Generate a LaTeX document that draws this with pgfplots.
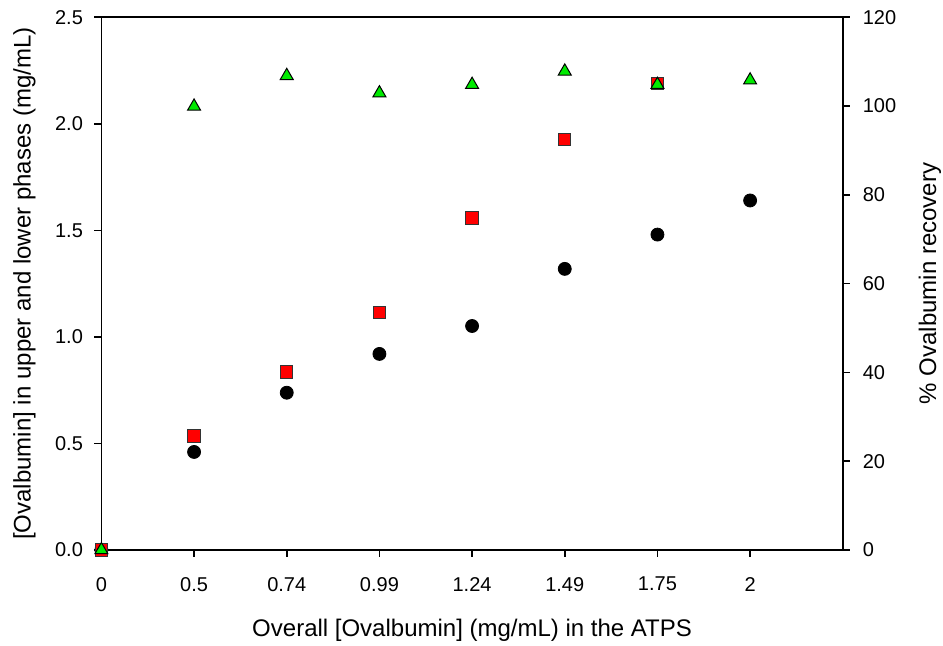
\documentclass[border=0pt]{standalone}
\usepackage{fontspec}
\setmainfont{Liberation Sans}
\usepackage{pgfplots}
\pgfplotsset{compat=1.18}

\definecolor{markred}{RGB}{255,0,0}
\definecolor{markgreen}{RGB}{0,235,0}

\pgfplotsset{
  every axis/.append style={
    scale only axis,
    width=370.7pt, height=266.4pt,
    xmin=0, xmax=8,
    tick align=outside,
    major tick length=3.5pt,
    axis line style={line width=0.8pt, black},
    tick style={line width=0.8pt, black},
    tick label style={font=\fontsize{10}{12}\selectfont},
    label style={font=\fontsize{12}{14.4}\selectfont},
    /pgf/number format/assume math mode=true,
    clip=false,
  }
}

\begin{document}
\begin{tikzpicture}
\useasboundingbox (-50.7pt,-48pt) rectangle (420.8pt,275.0pt);

% left axis: concentrations in the two phases
\begin{axis}[
  ymin=0, ymax=2.5,
  xtick={0,1,2,3,4,5,6,7},
  xticklabels={0,0.5,0.74,0.99,1.24,1.49,1.75,2},
  ytick={0,0.5,1,1.5,2,2.5},
  xtick pos=bottom, ytick pos=left,
  xticklabel style={yshift=-6.5pt},
  yticklabel style={xshift=-2.2pt, /pgf/number format/.cd, fixed, fixed zerofill, precision=1},
  xlabel={Overall [Ovalbumin] (mg/mL) in the ATPS},
  ylabel={[Ovalbumin] in upper and lower phases (mg/mL)},
  xlabel style={at={(axis description cs:0.5,0)}, anchor=base, yshift=-43.5pt, inner sep=0pt},
  ylabel style={at={(axis description cs:-0.0956,0.5)}, anchor=base, inner sep=0pt},
]
\addplot[only marks, mark=*, mark size=3.25pt,
  mark options={fill=black, draw=black}]
  coordinates {(0,0) (1,0.46) (2,0.738) (3,0.92) (4,1.051) (5,1.319) (6,1.48) (7,1.64)};
\addplot[only marks, mark=square*, mark size=3.1pt,
  mark options={fill=markred, draw=black!80, line width=0.5pt}]
  coordinates {(0,0) (1,0.535) (2,0.835) (3,1.115) (4,1.557) (5,1.927) (6,2.19)};
\end{axis}

% right axis: recovery
\begin{axis}[
  ymin=0, ymax=120,
  ytick={0,20,40,60,80,100,120},
  axis y line*=right, axis x line=none,
  yticklabel style={xshift=3pt},
  ylabel={\% Ovalbumin recovery},
  ylabel style={at={(axis description cs:1.1258,0.5)}, anchor=base, inner sep=0pt},
]
\addplot[only marks, mark=triangle*, mark size=3.75pt,
  mark options={fill=markgreen, draw=black, line width=0.5pt}]
  coordinates {(0,0) (1,99.9) (2,106.8) (3,102.9) (4,104.8) (5,107.8) (6,104.8) (7,105.8)};
\end{axis}
\end{tikzpicture}
\end{document}
